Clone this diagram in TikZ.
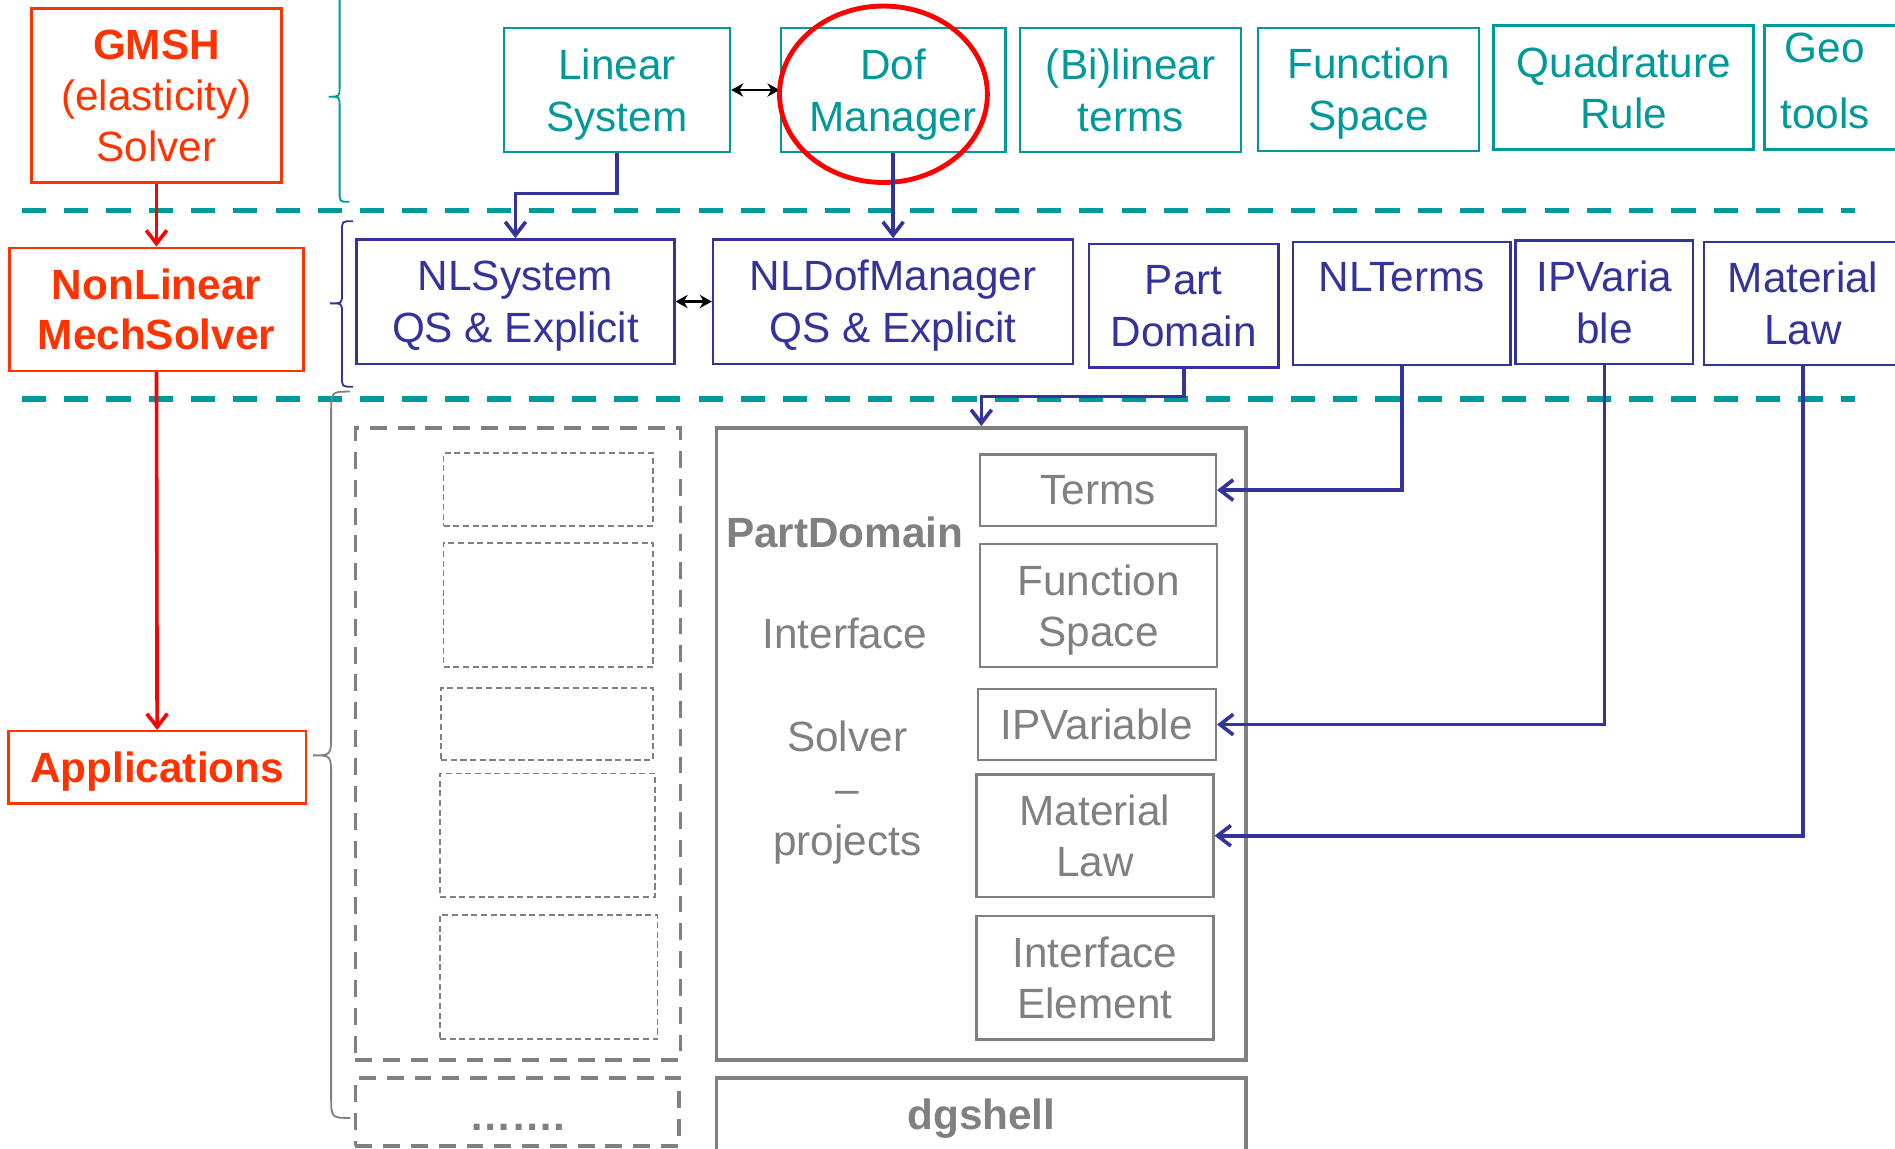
\documentclass[tikz,border=0pt]{standalone}
\usepackage{fontspec}
\setmainfont{Liberation Sans}
\usetikzlibrary{arrows.meta}
\definecolor{cTeal}{RGB}{0,153,153}
\definecolor{cBlue}{RGB}{51,51,153}
\definecolor{cOrange}{RGB}{255,51,0}
\definecolor{cRed}{RGB}{255,0,0}
\definecolor{cGray}{RGB}{128,128,128}
\tikzset{
  box/.style={draw, line width=2pt, inner sep=0pt, align=center, text depth=0pt, font=\fontsize{35}{43}\selectfont},
  tbox/.style={box, draw=cTeal, text=cTeal},
  bbox/.style={box, draw=cBlue, text=cBlue},
  obox/.style={box, draw=cOrange, text=cOrange, font=\fontsize{35}{42}\selectfont},
  gbox/.style={box, draw=cGray, text=cGray, font=\fontsize{35}{42}\selectfont},
  dbox/.style={draw=cGray, line width=1.5pt, dash pattern=on 5pt off 3pt, inner sep=0pt},
  Dbox/.style={draw=cGray, line width=3pt, dash pattern=on 14pt off 9pt, inner sep=0pt},
  gtext/.style={text=cGray, align=center, inner sep=0pt, text depth=0pt, font=\fontsize{35}{43}\selectfont},
  conn/.style={draw=cBlue, line width=3pt, -{Straight Barb[length=11pt,width=17pt]}},
  rconn/.style={draw=cRed, line width=3pt, -{Straight Barb[length=11pt,width=17pt]}},
  dbl/.style={draw=black, line width=2.2pt, {Stealth[length=10pt,width=11pt]}-{Stealth[length=10pt,width=11pt]}},
  sep/.style={draw=cTeal, line width=4.5pt, dash pattern=on 20pt off 15pt},
  brace/.style={line width=1.5pt}
}
\begin{document}
\begin{tikzpicture}[x=1pt,y=-1pt]
\path[fill=white,use as bounding box] (0,0) rectangle (1568,950);

% separators
\draw[sep] (18,174) -- (1535,174);
\draw[sep] (18,330) -- (1535,330);

% braces
\draw[brace, draw=cTeal] (289,-7) .. controls (281,-7) .. (281,1) -- (281,72) .. controls (281,80) .. (272,80) .. controls (281,80) .. (281,88) -- (281,159) .. controls (281,167) .. (289,167);
\draw[brace, draw=cBlue] (292,183) .. controls (283,183) .. (283,191) -- (283,243) .. controls (283,251) .. (273,251) .. controls (283,251) .. (283,259) -- (283,312) .. controls (283,320) .. (292,320);
\draw[brace, draw=cGray] (290,324) .. controls (274,324) .. (274,342) -- (274,607) .. controls (274,625) .. (259,625) .. controls (274,625) .. (274,643) -- (274,907) .. controls (274,925) .. (290,925);

% left column
\node[obox, minimum width=207pt, minimum height=144pt] (GM) at (129.5,79) {\textbf{GMSH}\\(elasticity)\\Solver};
\node[obox, minimum width=243pt, minimum height=102pt, font=\fontsize{35}{41}\selectfont\bfseries] (NLM) at (129.5,256) {NonLinear\\MechSolver};
\node[obox, minimum width=246pt, minimum height=60pt, font=\fontsize{35}{42}\selectfont\bfseries] (AP) at (130,635) {Applications};
\draw[rconn] (GM.south) -- (NLM.north);
\draw[rconn] (NLM.south) -- (AP.north);

% top row (teal)
\node[tbox, minimum width=187pt, minimum height=103pt] (LS) at (510.5,74.5) {Linear\\System};
\node[tbox, minimum width=186pt, minimum height=103pt] (DM) at (739,74.5) {Dof\\Manager};
\node[tbox, minimum width=183pt, minimum height=103pt] (BT) at (935.5,74.5) {(Bi)linear\\terms};
\node[tbox, minimum width=183pt, minimum height=102pt] (FS) at (1132.5,74) {Function\\Space};
\node[tbox, line width=2.5pt, minimum width=215pt, minimum height=103pt, font=\fontsize{35}{42}\selectfont] (QR) at (1343.5,72.5) {Quadrature\\Rule};
\node[tbox, line width=2.5pt, minimum width=120pt, minimum height=103pt] (GT) at (1520,72.5) {};
\node[text=cTeal, align=center, inner sep=0pt, font=\fontsize{35}{54}\selectfont] (GTt) at (1510,67) {Geo\\tools};
\draw[dbl] (LS.east) -- (DM.west);
\draw[draw=cRed, line width=4pt] (731,78) ellipse [x radius=86, y radius=73];

% second row (blue)
\node[bbox, minimum width=263pt, minimum height=103pt] (NLS) at (426.5,249.5) {NLSystem\\QS \& Explicit};
\node[bbox, minimum width=298pt, minimum height=103pt] (NLDM) at (739,249.5) {NLDofManager\\QS \& Explicit};
\node[bbox, minimum width=157pt, minimum height=102pt] (PD) at (979.5,253) {Part\\Domain};
\node[bbox, minimum width=180pt, minimum height=102pt] (NLT) at (1160,251) {NLTerms\\\mbox{}};
\node[bbox, minimum width=147pt, minimum height=102pt] (IPV) at (1327.5,250) {IPVaria\\ble};
\node[bbox, minimum width=164pt, minimum height=102pt] (ML) at (1492,251) {Material\\Law};
\draw[dbl] (NLS.east) -- (NLDM.west);
\draw[conn] (LS.south) -- (LS.south |- 0,160) -| (NLS.north);
\draw[conn] (DM.south) -- (NLDM.north);

% PartDomain block
\node[draw=cGray, line width=3pt, inner sep=0pt, minimum width=438pt, minimum height=523pt] (PDB) at (812,615.5) {};
\node[gtext, font=\fontsize{35}{43}\selectfont\bfseries] (PDt) at (699,440) {PartDomain};
\node[gtext] (IFt) at (699,524) {Interface};
\node[gtext] (SPt) at (701,652) {Solver\\–\\projects};
\node[gbox, minimum width=195pt, minimum height=59pt] (TE) at (908.5,405.5) {Terms};
\node[gbox, minimum width=196pt, minimum height=102pt] (FSi) at (909,501) {Function\\Space};
\node[gbox, minimum width=197pt, minimum height=59pt] (IPi) at (907.5,599.5) {IPVariable};
\node[gbox, minimum width=196pt, minimum height=101pt] (MLi) at (906,691.5) {Material\\Law};
\node[gbox, minimum width=196pt, minimum height=102pt] (IEi) at (906,809) {Interface\\Element};
\node[draw=cGray, line width=3pt, inner sep=0pt, minimum width=438pt, minimum height=70pt] (DG) at (812,927) {};
\node[gtext, font=\fontsize{35}{43}\selectfont\bfseries] (DGt) at (812,922) {dgshell};

\draw[conn] (PD.south) -- (PD.south |- 0,328) -| (PDB.north);
\draw[conn] (NLT.south) |- (TE.east);
\draw[conn] (IPV.south) |- (IPi.east);
\draw[conn] (ML.south) |- (MLi.east);

% applications column (dashed)
\node[Dbox, minimum width=269pt, minimum height=523pt] (AB) at (428.5,615.5) {};
\node[dbox, minimum width=173pt, minimum height=60pt] (d1) at (453.5,405) {};
\node[dbox, minimum width=173pt, minimum height=103pt] (d2) at (453.5,500.5) {};
\node[dbox, minimum width=175pt, minimum height=60pt] (d3) at (452.5,599) {};
\node[dbox, minimum width=178pt, minimum height=102pt] (d4) at (453,691) {};
\node[dbox, minimum width=180pt, minimum height=103pt] (d5) at (454,808.5) {};
\node[Dbox, minimum width=268pt, minimum height=56pt] (AB2) at (428,920) {};
\node[text=cGray, inner sep=0pt, anchor=base, font=\fontsize{35}{43}\selectfont\bfseries] (dots) at (428,935) {…….};
\end{tikzpicture}
\end{document}
